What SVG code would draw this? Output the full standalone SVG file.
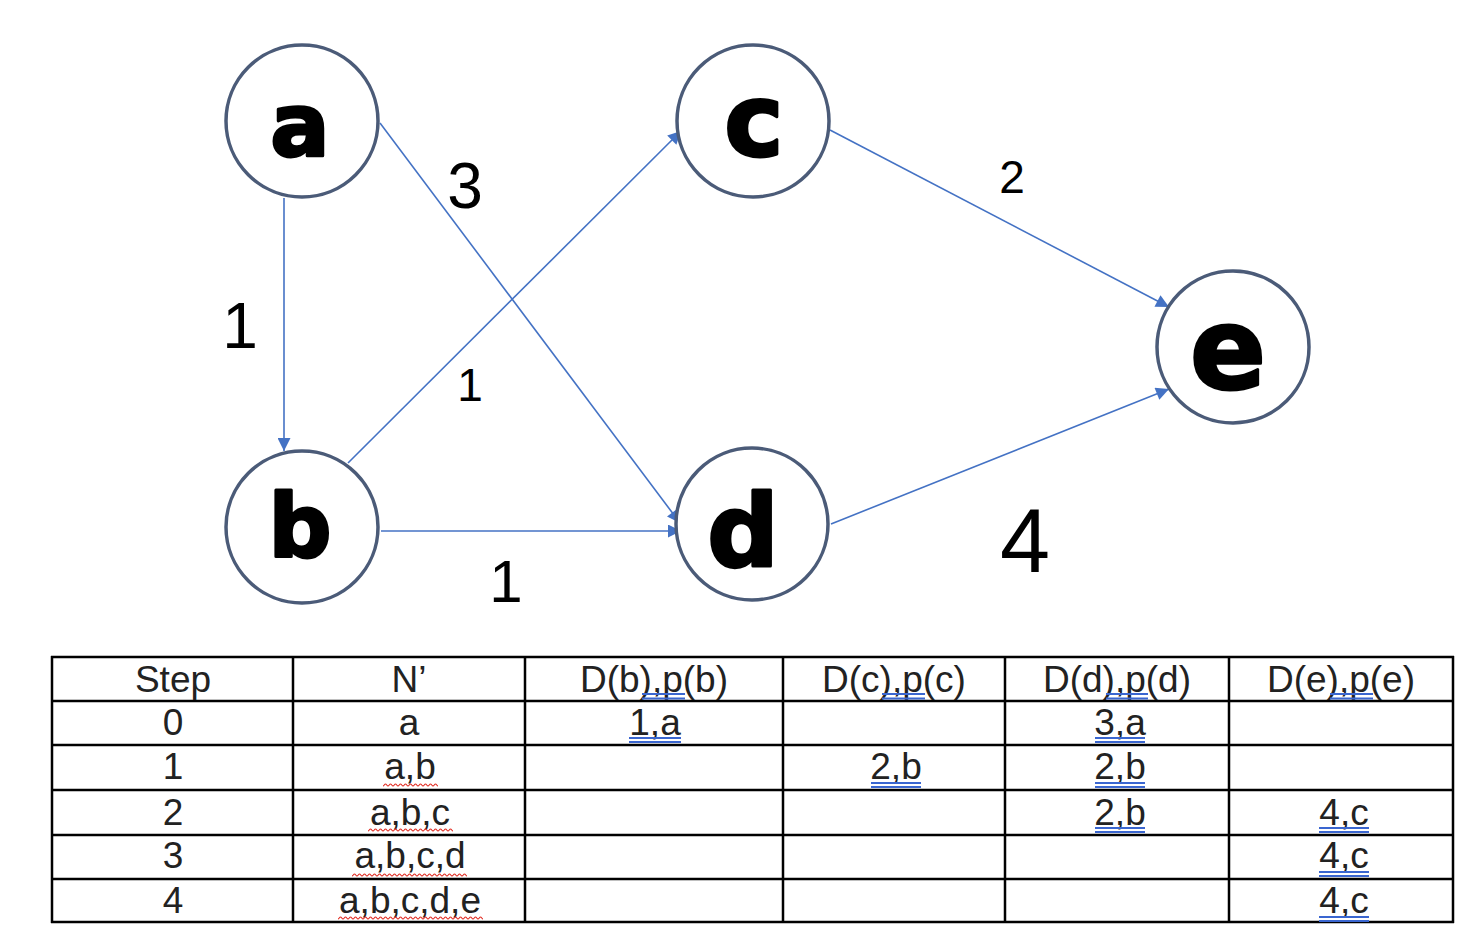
<svg xmlns="http://www.w3.org/2000/svg" width="1468" height="930" viewBox="0 0 1468 930">
<style>
.node circle{fill:#fff;stroke:#4b5b78;stroke-width:3.5}
.letter{font-family:"DejaVu Sans",sans-serif;font-weight:bold;fill:#000;stroke:#000;stroke-width:3;stroke-linejoin:round;text-anchor:middle}
.edge{stroke:#4472c4;stroke-width:1.6;fill:none;marker-end:url(#arr)}
.wl{font-family:"Liberation Sans",Arial,sans-serif;fill:#000;text-anchor:middle;font-weight:normal}
.grid line{stroke:#000;stroke-width:2.5}
.cell{font-family:"Liberation Sans",Arial,sans-serif;font-size:37px;fill:#222;text-anchor:middle}
.ul line{stroke:#3a66d0;stroke-width:1.8}
</style>
<defs>
<marker id="arr" viewBox="0 0 10 10" refX="10" refY="5" markerWidth="16" markerHeight="13" markerUnits="userSpaceOnUse" orient="auto"><path d="M0,0 L10,5 L0,10 z" fill="#4472c4"/></marker>
<pattern id="wavy" patternUnits="userSpaceOnUse" width="5" height="4"><path d="M0,3 C1,3 1.5,1 2.5,1 C3.5,1 4,3 5,3" fill="none" stroke="#e0281e" stroke-width="1.1"/></pattern>
</defs>
<rect width="1468" height="930" fill="#fff"/>
<g id="connectors">
<line class="edge" x1="284" y1="198" x2="284" y2="451"/>
<line class="edge" x1="380" y1="123" x2="680" y2="523"/>
<line class="edge" x1="381" y1="531" x2="681" y2="531"/>
<line class="edge" x1="348" y1="463" x2="681" y2="131"/>
<line class="edge" x1="830" y1="130" x2="1169" y2="307"/>
<line class="edge" x1="831" y1="524" x2="1169" y2="389"/>
</g>
<g id="edge-labels">
<text class="wl" x="465" y="208" font-size="64">3</text>
<text class="wl" x="240" y="348" font-size="64">1</text>
<text class="wl" x="470" y="401" font-size="46">1</text>
<text class="wl" x="506" y="602" font-size="60">1</text>
<text class="wl" x="1012" y="193" font-size="46">2</text>
<text class="wl" x="1025" y="572" font-size="90">4</text>
</g>
<g id="node-a" class="node"><circle cx="302" cy="121" r="76"/><text class="letter" x="300" y="156" font-size="88">a</text></g>
<g id="node-b" class="node"><circle cx="302" cy="527" r="76"/><text class="letter" x="300" y="556" font-size="88">b</text></g>
<g id="node-c" class="node"><circle cx="753" cy="121" r="76"/><text class="letter" x="754" y="156" font-size="100">c</text></g>
<g id="node-d" class="node"><circle cx="752" cy="524" r="76"/><text class="letter" x="743" y="566" font-size="100">d</text></g>
<g id="node-e" class="node"><circle cx="1233" cy="347" r="76"/><text class="letter" x="1228" y="388" font-size="112">e</text></g>
<g id="table">
<g class="grid">
<line x1="51" y1="657" x2="1454" y2="657"/>
<line x1="51" y1="701" x2="1454" y2="701"/>
<line x1="51" y1="745" x2="1454" y2="745"/>
<line x1="51" y1="790" x2="1454" y2="790"/>
<line x1="51" y1="835" x2="1454" y2="835"/>
<line x1="51" y1="879" x2="1454" y2="879"/>
<line x1="51" y1="922" x2="1454" y2="922"/>
<line x1="52" y1="656" x2="52" y2="923"/>
<line x1="293" y1="656" x2="293" y2="923"/>
<line x1="525" y1="656" x2="525" y2="923"/>
<line x1="783" y1="656" x2="783" y2="923"/>
<line x1="1005" y1="656" x2="1005" y2="923"/>
<line x1="1229" y1="656" x2="1229" y2="923"/>
<line x1="1453" y1="656" x2="1453" y2="923"/>
</g>
<text class="cell" x="173" y="692">Step</text>
<text class="cell" x="409" y="692">N’</text>
<text class="cell" x="654" y="692">D(b),p(b)</text>
<text class="cell" x="894" y="692">D(c),p(c)</text>
<text class="cell" x="1117" y="692">D(d),p(d)</text>
<text class="cell" x="1341" y="692">D(e),p(e)</text>
<text class="cell" x="173" y="735">0</text>
<text class="cell" x="409" y="735">a</text>
<text class="cell" x="655" y="735">1,a</text>
<text class="cell" x="1120" y="735">3,a</text>
<text class="cell" x="173" y="779">1</text>
<text class="cell" x="410" y="779">a,b</text>
<text class="cell" x="896" y="779">2,b</text>
<text class="cell" x="1120" y="779">2,b</text>
<text class="cell" x="173" y="825">2</text>
<text class="cell" x="410" y="825">a,b,c</text>
<text class="cell" x="1120" y="825">2,b</text>
<text class="cell" x="1344" y="825">4,c</text>
<text class="cell" x="173" y="868">3</text>
<text class="cell" x="410" y="868">a,b,c,d</text>
<text class="cell" x="1344" y="868">4,c</text>
<text class="cell" x="173" y="913">4</text>
<text class="cell" x="410" y="913">a,b,c,d,e</text>
<text class="cell" x="1344" y="913">4,c</text>
<g class="ul">
<line x1="642" y1="694" x2="685" y2="694"/><line x1="642" y1="698.5" x2="685" y2="698.5"/>
<line x1="882" y1="694" x2="925" y2="694"/><line x1="882" y1="698.5" x2="925" y2="698.5"/>
<line x1="1106" y1="694" x2="1148" y2="694"/><line x1="1106" y1="698.5" x2="1148" y2="698.5"/>
<line x1="1330" y1="694" x2="1373" y2="694"/><line x1="1330" y1="698.5" x2="1373" y2="698.5"/>
<line x1="629" y1="738" x2="681" y2="738"/><line x1="629" y1="742" x2="681" y2="742"/>
<line x1="1095" y1="738" x2="1145" y2="738"/><line x1="1095" y1="742" x2="1145" y2="742"/>
<line x1="871" y1="783" x2="921" y2="783"/><line x1="871" y1="787" x2="921" y2="787"/>
<line x1="1095" y1="783" x2="1145" y2="783"/><line x1="1095" y1="787" x2="1145" y2="787"/>
<line x1="1095" y1="828" x2="1145" y2="828"/><line x1="1095" y1="832" x2="1145" y2="832"/>
<line x1="1319" y1="828" x2="1369" y2="828"/><line x1="1319" y1="832" x2="1369" y2="832"/>
<line x1="1319" y1="872" x2="1369" y2="872"/><line x1="1319" y1="876" x2="1369" y2="876"/>
<line x1="1319" y1="917" x2="1369" y2="917"/><line x1="1319" y1="921" x2="1369" y2="921"/>
</g>
<rect x="0" y="0" width="55" height="4" fill="url(#wavy)" transform="translate(383,783)"/>
<rect x="0" y="0" width="85" height="4" fill="url(#wavy)" transform="translate(368,828)"/>
<rect x="0" y="0" width="115" height="4" fill="url(#wavy)" transform="translate(352,873)"/>
<rect x="0" y="0" width="145" height="4" fill="url(#wavy)" transform="translate(338,916)"/>
</g>
</svg>
